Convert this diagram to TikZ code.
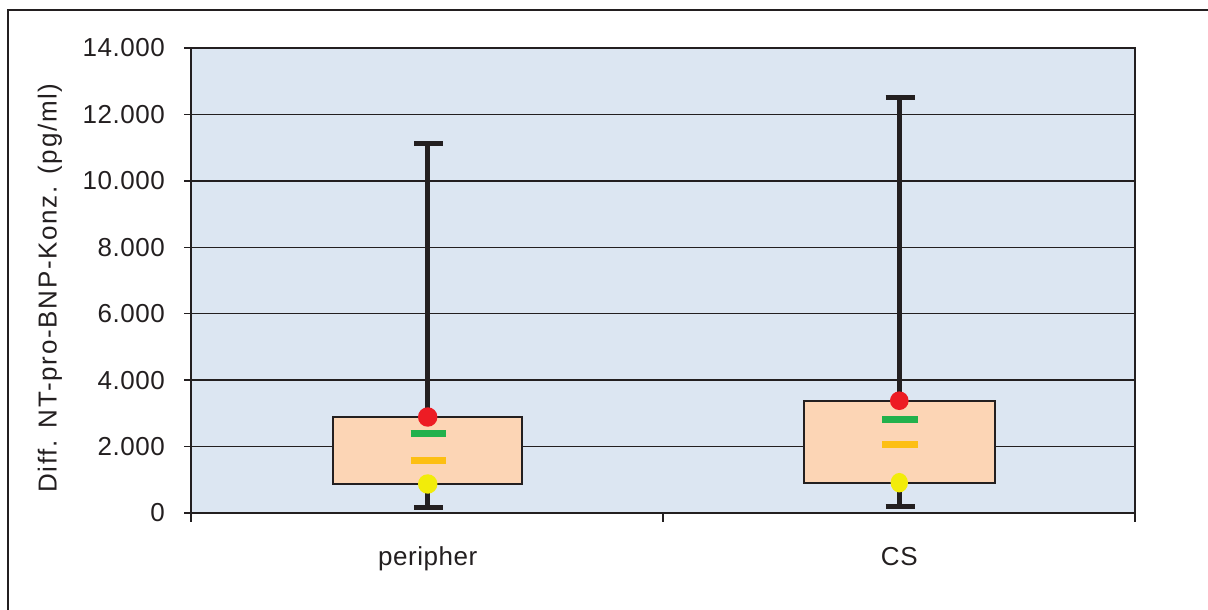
\documentclass[tikz,border=0pt]{standalone}
\usepackage{fontspec}
\setmainfont{Liberation Sans}
\newfontfamily\spacedfont[LetterSpace=6.5]{Liberation Sans}
\newfontfamily\widefont[LetterSpace=2]{Liberation Sans}
\definecolor{plotbg}{HTML}{DCE6F2}
\definecolor{boxfill}{HTML}{FCD5B5}
\definecolor{inkdark}{HTML}{231F20}
\definecolor{dotred}{HTML}{ED1C24}
\definecolor{dotyellow}{HTML}{F2EC0A}
\definecolor{barmean}{HTML}{22B14C}
\definecolor{barmed}{HTML}{FDBF13}
\newcommand{\chartfont}{\fontsize{19.5}{23}\selectfont}

\begin{document}
\begin{tikzpicture}[x=0.75pt, y=-0.75pt,
    gridline/.style={draw=inkdark, line width=1.1pt},
    axisline/.style={draw=inkdark, line width=1.5pt},
    whisker/.style={draw=inkdark, line width=3.75pt},
    boxbody/.style={fill=boxfill, draw=inkdark, line width=1.2pt},
    statbar/.style={line width=5.25pt},
    ticklabel/.style={anchor=east, inner sep=0pt, text=inkdark, font=\widefont\chartfont},
    catlabel/.style={anchor=base, inner sep=0pt, text=inkdark, font=\widefont\chartfont}]
  \useasboundingbox (0,0) rectangle (1208,610);

  % outer frame
  \draw[inkdark, line width=1.2pt] (8,610) -- (8,10) -- (1208,10);

  % plot area and grid
  \fill[plotbg] (191,48) rectangle (1135,513);
  \foreach \k in {1,...,6}
    \draw[gridline] (191,{513-66.43*\k}) -- (1135,{513-66.43*\k});
  \foreach \k/\lab in {0/0, 1/2.000, 2/4.000, 3/6.000, 4/8.000, 5/10.000, 6/12.000, 7/14.000} {
    \draw[gridline] (184,{513-66.43*\k}) -- (191,{513-66.43*\k});
    \node[ticklabel] (tick\k) at (165,{513-66.43*\k}) {\lab};
  }
  \draw[axisline] (191,513) rectangle (1135,48);
  \foreach \x in {191, 663, 1135}
    \draw[gridline] (\x,513) -- (\x,522);

  \node[rotate=90, inner sep=0pt, text=inkdark, font=\spacedfont\chartfont] (ylabel) at (50,288)
    {Diff. NT-pro-BNP-Konz. (pg/ml)};

  % peripher
  \draw[whisker] (427.7,144) -- (427.7,507);
  \draw[whisker] (414,144) -- (443,144);
  \draw[whisker] (414,507) -- (443,507);
  \draw[boxbody] (333,417) rectangle (522,484);
  \draw[statbar, barmean] (410.7,433.7) -- (446.3,433.7);
  \draw[statbar, barmed] (410.7,460.3) -- (446.3,460.3);
  \fill[dotred] (427.7,417) circle (7.3pt);
  \fill[dotyellow] (427.7,484) circle (7.3pt);

  % CS
  \draw[whisker] (899.3,97.7) -- (899.3,506.3);
  \draw[whisker] (885.5,97.7) -- (914.5,97.7);
  \draw[whisker] (885.5,506.3) -- (914.5,506.3);
  \draw[boxbody] (804,400.7) rectangle (995,482.7);
  \draw[statbar, barmean] (882,419.3) -- (917.5,419.3);
  \draw[statbar, barmed] (882,444.3) -- (917.5,444.3);
  \fill[dotred] (899.3,400.7) circle (7pt);
  \fill[dotyellow] (899.3,482.7) circle [x radius=6.5pt, y radius=7.3pt];

  \node[catlabel] (periph) at (427.7,565.5) {peripher};
  \node[catlabel] (cs) at (899.3,565.5) {CS};
\end{tikzpicture}
\end{document}
